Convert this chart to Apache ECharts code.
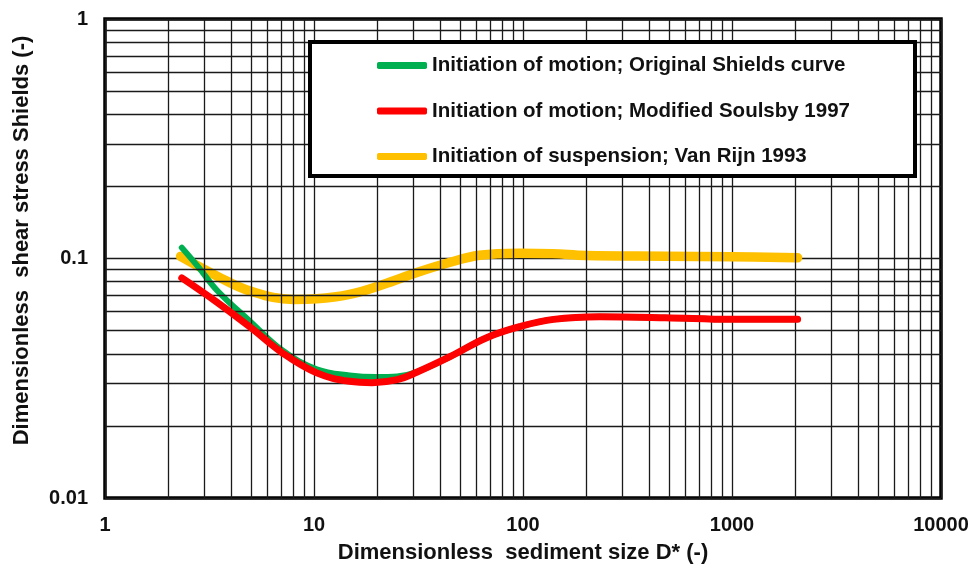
<!DOCTYPE html>
<html>
<head>
<meta charset="utf-8">
<script src="https://cdn.jsdelivr.net/npm/echarts@6/dist/echarts.min.js"></script>
<style>
  html, body { margin: 0; padding: 0; background: #fff; }
  #chart { width: 973px; height: 569px; }
</style>
</head>
<body>
<div id="chart"></div>
<script>
// Shields diagram: D* vs critical Shields parameter
const shieldsOriginal = [
  [2.33, 0.111], [2.8, 0.092], [3.44, 0.0735], [4.96, 0.0545], [7.1, 0.0412],
  [10.3, 0.0345], [14.8, 0.0325], [20, 0.032], [25, 0.0322], [31, 0.0336],
  [45, 0.039], [67, 0.0467], [97, 0.052], [140, 0.0557], [233, 0.0571],
  [480, 0.0566], [1000, 0.0557], [2060, 0.0557]
]
const soulsbyModified = [
  [2.33, 0.083], [3.44, 0.0656], [4.96, 0.0516], [7.1, 0.0402], [10.3, 0.0333],
  [14.8, 0.0307], [19, 0.0303], [25, 0.0312], [31, 0.0335], [45, 0.039],
  [67, 0.0467], [97, 0.052], [140, 0.0557], [233, 0.0571], [480, 0.0566],
  [1000, 0.0557], [2060, 0.0557]
]
const vanRijnSuspension = [
  [2.3, 0.102], [3.44, 0.0844], [4.96, 0.0731], [7.97, 0.0675], [10.3, 0.0679],
  [14.8, 0.0708], [21.4, 0.0779], [30.8, 0.0872], [44, 0.096], [62, 0.1032],
  [96, 0.1053], [138, 0.1048], [200, 0.1029], [480, 0.1022], [1000, 0.1016],
  [2060, 0.1007]
]
const seriesNames = [
  'Initiation of motion; Original Shields curve',
  'Initiation of motion; Modified Soulsby 1997',
  'Initiation of suspension; Van Rijn 1993'
]
const colors = ['#00b050', '#ff0000', '#ffc000']

// minor grid lines at 2..9 of every decade
const minorX = []
for (const d of [1, 10, 100, 1000]) {
  for (let k = 2; k <= 9; k++) minorX.push(k * d)
}
const minorY = []
for (const d of [0.01, 0.1]) {
  for (let k = 2; k <= 9; k++) minorY.push(+(k * d).toPrecision(3))
}

const font = "'Liberation Sans', Arial, sans-serif"
const gridColor = '#1a1a1a'
const labelFmt = v => String(+(+v).toPrecision(6))

let myChart = echarts.init(document.getElementById('chart'))
let option = {
  animation: false,
  textStyle: { fontFamily: font },
  grid: {
    left: 105, right: 32, top: 19, bottom: 71,
    show: true, borderColor: '#000', borderWidth: 3.5, backgroundColor: 'transparent'
  },
  legend: {
    data: seriesNames,
    orient: 'vertical',
    left: 372,
    top: 48.5,
    z: 100,
    icon: 'roundRect',
    itemWidth: 50,
    itemHeight: 7,
    itemGap: 21.5,
    textStyle: { fontFamily: font, fontWeight: 'bold', fontSize: 20.5, color: '#111', lineHeight: 24 }
  },
  graphic: [{
    type: 'rect',
    z: 50,
    shape: { x: 310, y: 42, width: 605, height: 134 },
    style: { fill: '#fff', stroke: '#000', lineWidth: 4 }
  }],
  xAxis: {
    type: 'log',
    logBase: 10,
    min: 1,
    max: 10000,
    name: 'Dimensionless  sediment size D* (-)',
    nameLocation: 'middle',
    nameGap: 44,
    nameTextStyle: { fontFamily: font, fontWeight: 'bold', fontSize: 22, color: '#111' },
    axisLine: { show: false },
    axisTick: { show: false },
    axisLabel: {
      margin: 17, fontFamily: font, fontWeight: 'bold', fontSize: 20, color: '#111',
      formatter: labelFmt
    },
    splitLine: { show: true, lineStyle: { color: gridColor, width: 1.3 } }
  },
  yAxis: {
    type: 'log',
    logBase: 10,
    min: 0.01,
    max: 1,
    name: 'Dimensionless  shear stress Shields (-)',
    nameLocation: 'middle',
    nameGap: 72,
    nameTextStyle: { fontFamily: font, fontWeight: 'bold', fontSize: 22, color: '#111', padding: [0, 0, 0, 36] },
    axisLine: { show: false },
    axisTick: { show: false },
    axisLabel: {
      margin: 17, fontFamily: font, fontWeight: 'bold', fontSize: 20, color: '#111',
      formatter: labelFmt
    },
    splitLine: { show: true, lineStyle: { color: gridColor, width: 1.3 } }
  },
  series: [
    {
      name: 'minor grid',
      type: 'line',
      data: [],
      silent: true,
      markLine: {
        silent: true,
        symbol: ['none', 'none'],
        label: { show: false },
        lineStyle: { color: gridColor, width: 1.3, type: 'solid' },
        emphasis: { disabled: true },
        data: minorX.map(v => ({ xAxis: v })).concat(minorY.map(v => ({ yAxis: v })))
      },
      z: 1
    },
    {
      name: seriesNames[2], type: 'line', data: vanRijnSuspension, smooth: 0.4,
      showSymbol: false, color: colors[2],
      lineStyle: { width: 9.5, cap: 'round', join: 'round', color: colors[2] }, z: 3
    },
    {
      name: seriesNames[0], type: 'line', data: shieldsOriginal, smooth: 0.4,
      showSymbol: false, color: colors[0],
      lineStyle: { width: 6, cap: 'round', join: 'round', color: colors[0] }, z: 4
    },
    {
      name: seriesNames[1], type: 'line', data: soulsbyModified, smooth: 0.4,
      showSymbol: false, color: colors[1],
      lineStyle: { width: 7, cap: 'round', join: 'round', color: colors[1] }, z: 5
    }
  ]
}
option && myChart.setOption(option)
</script>
</body>
</html>
